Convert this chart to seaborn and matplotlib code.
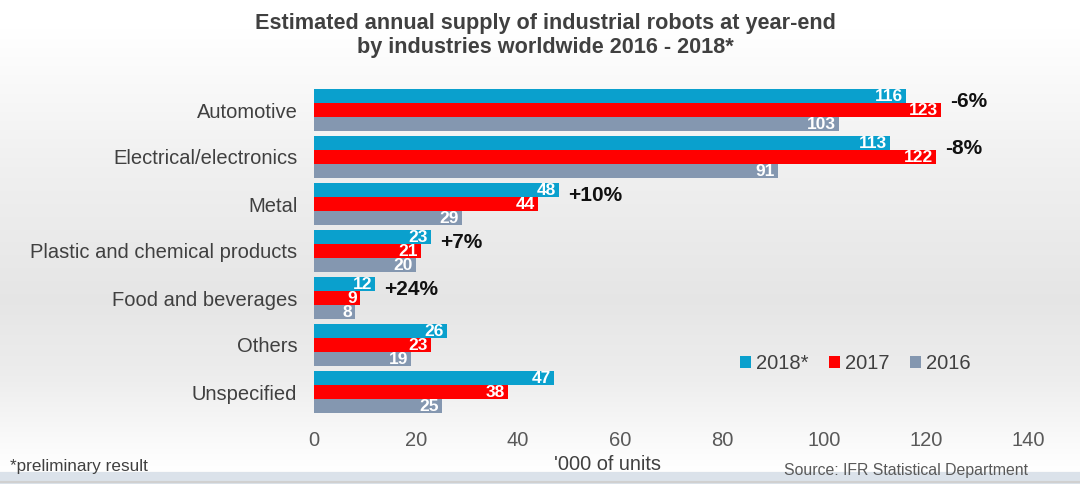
import numpy as np
import pandas as pd
import matplotlib
matplotlib.use("Agg")
import matplotlib.pyplot as plt
import seaborn as sns

categories = ["Automotive", "Electrical/electronics", "Metal",
              "Plastic and chemical products", "Food and beverages",
              "Others", "Unspecified"]
series = ["2018*", "2017", "2016"]
v2018 = [116, 113, 48, 23, 12, 26, 47]
v2017 = [123, 122, 44, 21, 9, 23, 38]
v2016 = [103, 91, 29, 20, 8, 19, 25]
changes = ["-6%", "-8%", "+10%", "+7%", "+24%", "", ""]
xticks = [0, 20, 40, 60, 80, 100, 120, 140]
colors = ["#0AA0CD", "#FF0000", "#8497B0"]

df = pd.DataFrame({
    "category": categories * 3,
    "year": [s for s in series for _ in categories],
    "value": v2018 + v2017 + v2016,
})

sns.set_theme(style="white")
plt.rcParams["font.family"] = ["Liberation Sans", "DejaVu Sans"]

fig = plt.figure(figsize=(10.8, 4.84), dpi=100)

# background gradient
bg = fig.add_axes([0, 0, 1, 1], zorder=-10)
ys = np.linspace(0, 1, 484)
prof = np.interp(ys, [0, 0.06, 0.35, 0.62, 0.78, 0.9, 0.975, 0.976, 1.0],
                 [1.0, 1.0, 0.94, 0.90, 0.93, 0.975, 1.0, 0.88, 0.88])
img = np.stack([prof, prof, prof], axis=-1)[:, None, :]
img = np.repeat(img, 4, axis=1)
cut = int(0.976 * 484)
img[cut:, :, 0] = 0.86
img[cut:, :, 1] = 0.89
img[cut:, :, 2] = 0.92
bg.imshow(img, aspect="auto", extent=[0, 1, 1, 0])
bg.axhline(1 - 2.5 / 484, color="#d0d0d0", lw=1.5)
bg.set_xlim(0, 1); bg.set_ylim(1, 0)
bg.axis("off")

ax = fig.add_axes([314 / 1080, 1 - 415.5 / 484, (1028 - 314) / 1080, (415.5 - 86.5) / 484])
ax.patch.set_alpha(0)
sns.barplot(data=df, y="category", x="value", hue="year", orient="h",
            palette=colors, hue_order=series, order=categories,
            width=0.9, ax=ax, saturation=1, edgecolor="none", legend=True)

for cont in ax.containers:
    for bar in cont:
        w = bar.get_width()
        ax.text(w - 0.6, bar.get_y() + bar.get_height() / 2 + 0.01, f"{int(w)}",
                ha="right", va="center", color="white", fontsize=12.5, fontweight="bold")

for i, txt in enumerate(changes):
    if txt:
        xm = max(v2018[i], v2017[i], v2016[i])
        ax.text(xm + 1.8, i - 0.19, txt, ha="left", va="center",
                fontsize=15, fontweight="bold", color="#111111")

ax.set_xlim(0, 140)
ax.set_xticks(xticks)
ax.set_xticklabels([str(t) for t in xticks], fontsize=14.5, color="#595959")
ax.tick_params(axis="x", length=0, pad=11)
ax.tick_params(axis="y", length=0, pad=12, labelsize=14.5, labelcolor="#404040")
ax.set_ylabel("")
ax.set_xlabel("")
for s in ax.spines.values():
    s.set_visible(False)

leg = ax.legend(loc="lower right", bbox_to_anchor=(0.945, 0.075), ncol=3, frameon=False,
                fontsize=14.5, handlelength=0.55, handleheight=0.55, handletextpad=0.25,
                columnspacing=1.0, labelcolor="#404040")

fig.text(545 / 1080, 1 - 23 / 484, "Estimated annual supply of industrial robots at year-end",
         ha="center", va="center", fontsize=15.6, fontweight="bold", color="#404040")
fig.text(545 / 1080, 1 - 48 / 484, "by industries worldwide 2016 - 2018*",
         ha="center", va="center", fontsize=15.6, fontweight="bold", color="#404040")
fig.text(607 / 1080, 1 - 465 / 484, "'000 of units", ha="center", va="center",
         fontsize=14.4, color="#404040")
fig.text(10 / 1080, 1 - 467 / 484, "*preliminary result", ha="left", va="center",
         fontsize=12.3, color="#404040")
fig.text(1028 / 1080, 1 - 471 / 484, "Source: IFR Statistical Department", ha="right",
         va="center", fontsize=11.4, color="#595959")

fig.savefig("out.png", dpi=100)
